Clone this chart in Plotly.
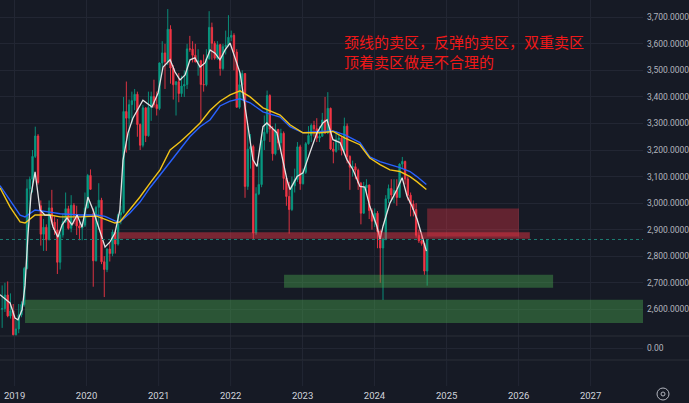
import pandas as pd
import plotly.graph_objects as go

# ---------------- data ----------------
CANDLE_START = "2018-10-30"   # biweekly candles
OPEN = [2600,2603,2654,2575,2594,2504,2526,2579,2618,2754,3054,3090,3176,3253,2990,2883,2909,2862,2982,2928,
        2899,2777,2880,2930,2979,2905,2992,2954,2914,2906,2917,2982,3104,2960,2783,2984,3011,2779,2750,2827,
        2810,2891,2846,2956,2965,3345,3320,3371,3386,3410,3296,3218,3359,3254,3360,3402,3371,3356,3528,3566,
        3533,3655,3509,3446,3457,3413,3441,3447,3581,3580,3557,3532,3536,3447,3446,3544,3662,3602,3546,3597,
        3507,3589,3595,3625,3632,3569,3361,3446,3488,3063,3203,3213,2887,3035,3070,3236,3267,3405,3279,3186,
        3277,3227,3263,3093,3025,2976,3065,3089,3212,3073,3116,3224,3255,3293,3280,3245,3252,3313,3264,3357,
        3204,3195,3240,3245,3198,3290,3176,3135,3137,3124,3075,2962,3058,3068,2972,2932,2962,2893,2831,2865,
        3016,3055,3031,3048,3021,3147,3157,3091,3030,2997,2976,2879,2858,2848,2744]
HIGH = [2690,2700,2705,2660,2620,2560,2620,2630,2760,3090,3100,3200,3288,3260,3010,2940,2920,3010,3050,2950,
        2940,2890,2960,3040,2990,3030,3000,2990,2930,2930,3040,3110,3127,2980,2990,3075,3020,2800,2830,2850,
        2900,2900,2960,2990,3400,3458,3390,3420,3430,3420,3300,3370,3360,3420,3420,3465,3420,3530,3610,3600,
        3731,3670,3520,3460,3490,3480,3500,3600,3630,3610,3600,3580,3540,3560,3580,3723,3680,3610,3610,3600,
        3600,3650,3708,3650,3640,3580,3500,3500,3490,3290,3260,3220,3060,3150,3260,3330,3424,3410,3290,3300,
        3280,3280,3270,3100,3080,3100,3130,3230,3220,3130,3230,3290,3300,3310,3320,3290,3340,3400,3418,3360,
        3230,3270,3260,3250,3322,3300,3180,3160,3150,3130,3080,3080,3090,3070,2980,2980,2970,2900,2870,3030,
        3070,3090,3090,3090,3150,3174,3160,3100,3040,3010,3000,2900,2880,2850,2863]
LOW = [2530,2590,2570,2565,2500,2440,2510,2570,2610,2750,2960,3040,3170,3070,2840,2820,2820,2860,2920,2880,
       2733,2750,2870,2925,2900,2890,2920,2880,2860,2860,2910,2980,3050,2685,2780,2900,2770,2646,2740,2780,
       2800,2810,2840,2920,2960,3190,3200,3300,3350,3250,3200,3210,3230,3250,3310,3360,3330,3350,3500,3430,
       3520,3450,3390,3330,3380,3400,3400,3430,3570,3530,3530,3480,3310,3420,3440,3540,3540,3540,3540,3480,
       3500,3560,3590,3610,3500,3360,3355,3390,3020,3050,3130,2863,2880,3030,3060,3200,3260,3230,3160,3180,
       3200,3200,3050,2990,2885,2970,3040,3080,3050,3070,3110,3220,3230,3250,3230,3230,3250,3260,3260,3200,
       3150,3190,3200,3180,3190,3150,3050,3100,3090,3050,2920,2960,3030,2940,2900,2910,2830,2700,2635,2860,
       3000,3010,3000,2990,3020,3130,3070,3010,2950,2950,2870,2850,2840,2730,2689]
CLOSE = [2603,2654,2575,2594,2504,2526,2579,2618,2754,3054,3090,3176,3253,3078,2883,2909,2862,2982,2928,2899,
         2777,2880,2930,2979,2905,2992,2954,2914,2906,2917,2982,3104,3052,2783,2984,3011,2779,2750,2827,2810,
         2891,2846,2956,2965,3345,3320,3371,3386,3410,3296,3218,3359,3254,3360,3402,3371,3356,3528,3566,3533,
         3655,3509,3446,3457,3413,3441,3447,3581,3580,3557,3532,3536,3447,3446,3544,3662,3602,3546,3597,3507,
         3589,3595,3625,3632,3569,3361,3446,3488,3063,3203,3213,2887,3035,3070,3236,3267,3405,3279,3186,3277,
         3227,3263,3093,3025,2976,3065,3089,3212,3073,3116,3224,3255,3293,3280,3245,3252,3313,3264,3357,3204,
         3195,3240,3245,3198,3290,3176,3135,3137,3124,3075,2962,3058,3068,2972,2932,2962,2893,2831,2865,3016,
         3055,3031,3048,3021,3147,3157,3091,3030,2997,2976,2879,2858,2848,2744,2863]

WHITE_DATES = ["2018-10-19","2018-12-09","2019-01-03","2019-01-18","2019-02-08","2019-02-23","2019-03-10",
               "2019-03-25","2019-04-15","2019-05-10","2019-06-04","2019-06-30","2019-07-15","2019-08-09",
               "2019-08-30","2019-09-24","2019-10-19","2019-11-14","2019-12-09","2020-01-08","2020-02-03",
               "2020-03-09","2020-04-04","2020-04-29","2020-05-24","2020-06-18","2020-07-04","2020-07-29",
               "2020-08-23","2020-10-13","2020-11-28","2020-12-29","2021-01-23","2021-02-28","2021-03-25",
               "2021-04-19","2021-05-15","2021-06-09","2021-07-04","2021-07-30","2021-08-24","2021-09-19",
               "2021-10-14","2021-11-08","2021-12-04","2021-12-29","2022-01-23","2022-02-18","2022-03-25",
               "2022-04-24","2022-05-15","2022-06-14","2022-07-04","2022-08-24","2022-10-14","2022-10-29",
               "2022-12-04","2023-01-03","2023-02-07","2023-03-15","2023-04-14","2023-05-05","2023-06-04",
               "2023-07-10","2023-08-14","2023-09-14","2023-10-19","2023-11-13","2023-12-08","2024-01-13",
               "2024-01-29","2024-02-13","2024-03-19","2024-04-24","2024-05-20","2024-06-14","2024-07-09",
               "2024-08-04","2024-08-29","2024-09-20"]
WHITE_VALS = [2655,2624,2567,2560,2598,2690,2880,3030,3118,2974,2955,2955,2910,2872,
              2918,2944,2918,2955,2910,3023,2974,2899,2835,2854,2887,2974,3162,3264,
              3320,3388,3362,3415,3513,3540,3494,3464,3483,3540,3547,3513,3528,3577,
              3565,3540,3577,3603,3550,3490,3314,3164,3138,3288,3302,3265,3088,3051,
              3100,3114,3190,3265,3302,3314,3239,3228,3164,3126,3063,3060,2988,2913,
              2863,2913,3000,3051,3096,3026,2988,2939,2876,2819]

MA_DATES = ["2018-10-19","2018-12-09","2019-01-29","2019-02-23","2019-04-15","2019-06-30","2019-08-20",
            "2019-11-29","2020-02-22","2020-04-04","2020-05-24","2020-06-18","2020-08-08","2020-09-28",
            "2020-11-18","2021-01-08","2021-02-28","2021-04-19","2021-06-08","2021-07-30","2021-09-19",
            "2021-11-08","2021-12-29","2022-02-18","2022-04-10","2022-06-14","2022-09-09","2022-10-29",
            "2023-01-03","2023-03-30","2023-06-04","2023-08-04","2023-10-19","2023-12-08","2024-01-29",
            "2024-03-19","2024-05-09","2024-06-29","2024-08-03","2024-09-20"]
YELLOW_VALS = [3058,2986,2929,2925,2955,2955,2948,2948,2951,2940,2925,2929,2974,3023,
               3075,3125,3200,3230,3264,3302,3350,3384,3408,3423,3400,3359,3332,3295,
               3265,3265,3270,3245,3220,3170,3145,3125,3119,3100,3081,3051]
BLUE_VALS = [3066,3012,2955,2948,2974,2966,2960,2955,2955,2950,2933,2929,2963,3004,
             3058,3106,3155,3200,3250,3288,3314,3366,3384,3393,3378,3344,3324,3288,
             3265,3270,3272,3257,3228,3174,3156,3145,3134,3119,3100,3070]

LAST_PRICE = 2863
YEAR_TICKS = ["2019-01-01","2020-01-01","2021-01-01","2022-01-01","2023-01-01",
              "2024-01-01","2025-01-01","2026-01-01","2027-01-01"]
YEAR_LABELS = ["2019","2020","2021","2022","2023","2024","2025","2026","2027"]
PRICE_TICKS = [2600,2700,2800,2900,3000,3100,3200,3300,3400,3500,3600,3700]

# zones: (x0, x1, y0, y1)
RED_BAND = ("2020-06-09", "2026-02-27", 2866, 2890)
RED_BOX = ("2024-09-24", "2026-01-03", 2874, 2980)
GREEN_BAND = ("2022-09-29", "2026-06-25", 2681, 2730)
GREEN_BIG = ("2019-02-23", "2028-06-01", 2548, 2636)

NOTE = "颈线的卖区，反弹的卖区，双重卖区<br>顶着卖区做是不合理的"

# ---------------- figure ----------------
BG = "#161a25"
GRID = "#222633"
SEP = "#2a2e39"
W, H = 689, 403
PLOT_W = 643

dates = pd.date_range(CANDLE_START, periods=len(CLOSE), freq="14D")

fig = go.Figure()
fig.add_trace(go.Candlestick(
    x=dates, open=OPEN, high=HIGH, low=LOW, close=CLOSE,
    increasing=dict(line=dict(color="#089981", width=0.9), fillcolor="#089981"),
    decreasing=dict(line=dict(color="#f23645", width=0.9), fillcolor="#f23645"),
    whiskerwidth=0, showlegend=False, hoverinfo="skip",
))
fig.add_trace(go.Scatter(x=MA_DATES, y=BLUE_VALS, mode="lines", line=dict(color="#2962ff", width=1.4),
                         showlegend=False, hoverinfo="skip"))
fig.add_trace(go.Scatter(x=MA_DATES, y=YELLOW_VALS, mode="lines", line=dict(color="#f2c418", width=1.4),
                         showlegend=False, hoverinfo="skip"))
fig.add_trace(go.Scatter(x=WHITE_DATES, y=WHITE_VALS, mode="lines", line=dict(color="#e3e3e3", width=1.3),
                         showlegend=False, hoverinfo="skip"))
# lower pane (empty indicator pane)
fig.add_trace(go.Scatter(x=[YEAR_TICKS[0]], y=[0], mode="markers", marker=dict(opacity=0),
                         xaxis="x2", yaxis="y2", showlegend=False, hoverinfo="skip"))

def zone(z, fill):
    fig.add_shape(type="rect", xref="x", yref="y", x0=z[0], x1=z[1], y0=z[2], y1=z[3],
                  fillcolor=fill, line=dict(width=0), layer="above")

zone(RED_BAND, "rgba(242,54,69,0.45)")
zone(RED_BOX, "rgba(242,54,69,0.35)")
zone(GREEN_BAND, "rgba(76,175,80,0.40)")
zone(GREEN_BIG, "rgba(76,175,80,0.40)")

# last price dotted line
fig.add_shape(type="line", xref="paper", yref="y", x0=0, x1=1, y0=LAST_PRICE, y1=LAST_PRICE,
              line=dict(color="#1d7f74", width=1, dash="dot"))

main_bottom = 1 - 336 / H
pane_bottom = 1 - 360 / H
# pane separators
for yy in (main_bottom, pane_bottom):
    fig.add_shape(type="line", xref="paper", yref="paper", x0=0, x1=W / PLOT_W, y0=yy, y1=yy,
                  line=dict(color=SEP, width=1))
# grid extension into time scale
for t in YEAR_TICKS:
    fig.add_shape(type="line", xref="x2", yref="paper", x0=t, x1=t, y0=1 - 386 / H, y1=pane_bottom,
                  line=dict(color=GRID, width=1))
# settings icon
cx, cy = 663 / PLOT_W, 1 - 394 / H
fig.add_shape(type="circle", xref="paper", yref="paper", x0=cx - 6 / PLOT_W, x1=cx + 6 / PLOT_W,
              y0=cy - 6 / H, y1=cy + 6 / H, line=dict(color="#b2b5be", width=1))
fig.add_shape(type="circle", xref="paper", yref="paper", x0=cx - 2 / PLOT_W, x1=cx + 2 / PLOT_W,
              y0=cy - 2 / H, y1=cy + 2 / H, line=dict(color="#b2b5be", width=1))

fig.add_annotation(text=NOTE, xref="paper", yref="paper", x=342 / PLOT_W, y=1 - 51.5 / H,
                   xanchor="left", yanchor="middle", align="left", showarrow=False,
                   font=dict(family="Noto Sans CJK SC", size=15, color="#f01818"))

x_range = ["2018-10-19", "2027-09-24"]
fig.update_layout(
    width=W, height=H, margin=dict(l=0, r=W - PLOT_W, t=0, b=0),
    paper_bgcolor=BG, plot_bgcolor=BG,
    font=dict(family="Roboto", size=8.5, color="#b2b5be"),
    xaxis=dict(range=x_range, type="date", tickvals=YEAR_TICKS, showticklabels=False,
               showgrid=True, gridcolor=GRID, gridwidth=1, zeroline=False,
               rangeslider=dict(visible=False), anchor="y", fixedrange=True),
    yaxis=dict(domain=[main_bottom, 1], range=[2499.4, 3765.2], side="right", tickvals=PRICE_TICKS,
               tickformat=",.4f", showgrid=True, gridcolor=GRID, zeroline=False, anchor="x",
               ticks="", ticklabelstandoff=3, automargin=False,
               tickfont=dict(family="Roboto", size=8.5, color="#b2b5be")),
    xaxis2=dict(range=x_range, type="date", matches="x", anchor="y2", tickvals=YEAR_TICKS,
                ticktext=YEAR_LABELS, showgrid=True, gridcolor=GRID, zeroline=False,
                ticks="", ticklabelstandoff=28, automargin=False,
                tickfont=dict(family="Roboto", size=9.5, color="#d1d4dc")),
    yaxis2=dict(domain=[pane_bottom, main_bottom], range=[-1, 1], side="right", anchor="x2",
                tickvals=[0], ticktext=["0.00"], showgrid=True, gridcolor=GRID, zeroline=False,
                ticks="", ticklabelstandoff=3, automargin=False,
                tickfont=dict(family="Roboto", size=8.5, color="#b2b5be")),
)

fig.write_html("out.html")
